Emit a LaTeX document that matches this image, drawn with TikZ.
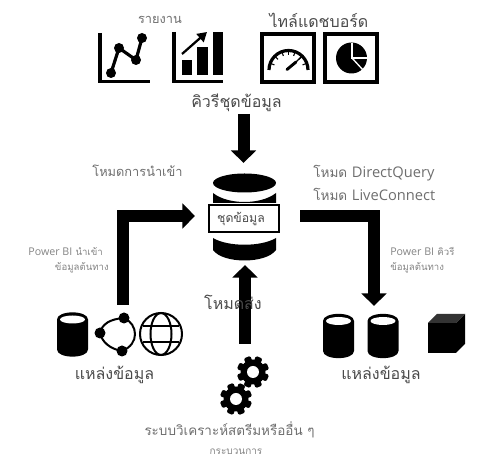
\documentclass[tikz,border=0pt]{standalone}
\usepackage{fontspec}
\setmainfont[Script=Thai]{Loma}
\newfontfamily\latinfont{Open Sans}
\usetikzlibrary{arrows.meta}
\definecolor{lblgray}{HTML}{6E6E6E}
\definecolor{capgray}{HTML}{4A4A4A}
\definecolor{cubetop}{HTML}{333333}
\tikzset{
  gearicon/.pic={
    \fill (0,0) circle (12.5);
    \foreach \ang in {0,45,...,315}
      \fill[rotate=\ang+22, rounded corners=1pt] (-3.5,-16) rectangle (3.5,-9);
    \fill[white] (0,0) circle (6);
  },
  dbicon/.pic={
    \fill (-15.5,-15) .. controls (-15.5,-24.5) and (15.5,-24.5) .. (15.5,-15) -- (15.5,15)
    .. controls (15.5,24.5) and (-15.5,24.5) .. (-15.5,15) -- cycle;
    \fill[white] (0,-15) ellipse [x radius=12.5, y radius=4];
  }
}
\begin{document}
\begin{tikzpicture}[
        x=0.75pt, y=-0.75pt,
        every node/.style={align=center},
        lbl/.style={text=lblgray, font=\fontsize{9.6pt}{11pt}\selectfont},
        biglbl/.style={text=capgray, font=\fontsize{12pt}{14pt}\selectfont},
        latlbl/.style={text=lblgray, font=\fontsize{10.2pt}{12pt}\selectfont, anchor=west, inner sep=0pt},
        tinylbl/.style={text=lblgray!85, font=\fontsize{7.2pt}{11.2pt}\selectfont, inner sep=0pt},
        bigarrow/.style={line width=9pt, -{Triangle[length=9.5pt,width=18.5pt]}},
        framebox/.style={draw, line width=3pt, minimum width=39pt, minimum height=36pt}
      ]
    \useasboundingbox (0,0) rectangle (490,473);
    % arrows first, labels go on top
    \node[draw, fill=white, line width=1.5pt, minimum width=53pt, minimum height=20pt,
    inner sep=0pt] (dataset) at (244,218.5) {};
    \coordinate (queryfrom) at (243.5,114);
    \coordinate (queryto) at (243.5,163);
    \coordinate (importfrom) at (123,305);
    \coordinate (importto) at (195,216);
    \coordinate (dqfrom) at (300,216);
    \coordinate (dqto) at (374,306);
    \coordinate (pushfrom) at (245,344);
    \coordinate (pushto) at (245,265);
    \draw[bigarrow] (queryfrom) -- (queryto);
    \draw[bigarrow] (importfrom) |- (importto);
    \draw[bigarrow] (dqfrom) -| (dqto);
    \draw[bigarrow] (pushfrom) -- (pushto);
    % dataset cylinder
    \fill (244.5,183) ellipse [x radius=31.5, y radius=9.5];
    \fill (213,193) .. controls (228,205) and (261,205) .. (276,193) -- (276,203) -- (213,203) -- cycle;
    \fill (213,238) .. controls (228,247) and (261,247) .. (276,238) -- (276,250)
    .. controls (266,264) and (223,264) .. (213,250) -- cycle;
    % report icons
    \draw[line width=2.6pt] (100,33) |- (150,81.5);
    \draw[line width=2.4pt] (111,73) -- (119,48) -- (136,60) -- (142,38);
    \foreach \px/\py in {111/73,119/48,136/60,142/38}
      \fill (\px,\py) circle (5);
    \draw[line width=2.6pt] (174,32) |- (223,81.5);
    \fill (182,60) rectangle (192,75);
    \fill (197,47) rectangle (208,75);
    \fill (213,32) rectangle (223,75);
    \draw[line width=1.7pt, -{Triangle[length=7pt,width=8pt]}] (182,54) -- (207,32);
    % dashboard icons
    \node[framebox] (gaugeframe) at (288,58) {};
    \node[framebox] (pieframe) at (351,58) {};
    \draw[line width=2.4pt] (269,70) arc [start angle=180, end angle=360, radius=19.5];
    \foreach \ang in {200,225,250,270,290,315,340}
      \draw[line width=0.8pt] (288.5,70) ++(\ang:19.5) -- ++(\ang:-4.5);
    \draw[line width=2.2pt, line cap=round] (287,69.5) -- (296,62);
    \draw[line width=0.9pt] (296,62) -- (303,55);
    \fill (351.5,58) circle (15.5);
    \draw[white, line width=1pt] (352,43) -- (352,58) -- (368,58);
    \draw[white, line width=1pt] (352,58) -- (363,70);
    % sources on the left
    \pic (srcdb) at (72.5,334.5) {dbicon};
    \fill (124,318) circle (5.5);
    \fill (100,333) circle (5.5);
    \fill (122,351) circle (5.5);
    \draw[line width=1.5pt] (124,318) .. controls (138,324) and (140,344) .. (122,351);
    \draw[line width=1.5pt] (100,333) .. controls (102,324) and (110,319) .. (124,318);
    \draw[line width=1.5pt] (100,333) .. controls (102,342) and (110,349) .. (122,351);
    \draw[line width=1.5pt] (161,334) circle (21);
    \draw[line width=1.5pt] (161,334) ellipse [x radius=10.5, y radius=21];
    \draw[line width=1.5pt] (143,326) -- (179,326);
    \draw[line width=1.5pt] (143,342) -- (179,342);
    % sources on the right
    \pic (srcdbl) at (338.5,336) {dbicon};
    \pic (srcdbr) at (383,336) {dbicon};
    \fill (428,323) rectangle (456,353);
    \fill (456,353) -- (465,344) -- (465,314) -- (456,323) -- cycle;
    \fill[cubetop] (428,323) -- (437,314) -- (465,314) -- (456,323) -- cycle;
    % gears
    \pic (gearup) at (253,372) {gearicon};
    \pic (geardown) at (236,399) {gearicon};
    % labels
    \node[text=capgray, font=\fontsize{9.2pt}{10pt}\selectfont] (dsname) at (241,219) {ชุดข้อมูล};
    \node[lbl] (reports) at (160,20) {รายงาน};
    \node[biglbl] (dashboards) at (319,20) {ไทล์แดชบอร์ด};
    \node[biglbl] (querylbl) at (236.5,103) {คิวรีชุดข้อมูล};
    \node[lbl] (importlbl) at (137.5,171) {โหมดการนำเข้า};
    \node[latlbl] (dqlbl) at (313,173) {โหมด {\latinfont\fontsize{11pt}{12pt}\selectfont DirectQuery}};
    \node[latlbl] (livelbl) at (313,194) {โหมด {\latinfont\fontsize{11pt}{12pt}\selectfont LiveConnect}};
    \node[tinylbl, align=right, anchor=north east] (importnote) at (109,247)
    {{\latinfont\fontsize{8pt}{11.2pt}\selectfont Power BI} นำเข้า\hspace*{4.5pt}\\ข้อมูลต้นทาง};
    \node[tinylbl, align=left, anchor=north west] (querynote) at (390,247)
    {{\latinfont\fontsize{8pt}{11.2pt}\selectfont Power BI} คิวรี\\ข้อมูลต้นทาง};
    \node[biglbl] (srcleft) at (114.5,375) {แหล่งข้อมูล};
    \node[biglbl] (srcright) at (381,375) {แหล่งข้อมูล};
    \node[biglbl] (pushlbl) at (233,302) {โหมดส่ง};
    \node[lbl, font=\fontsize{10.1pt}{11pt}\selectfont] (streamlbl) at (229.5,430) {ระบบวิเคราะห์สตรีมหรืออื่น ๆ};
    \node[tinylbl, font=\fontsize{7.5pt}{9pt}\selectfont] (proclbl) at (236,452) {กระบวนการ};
      \end{tikzpicture}
\end{document}
